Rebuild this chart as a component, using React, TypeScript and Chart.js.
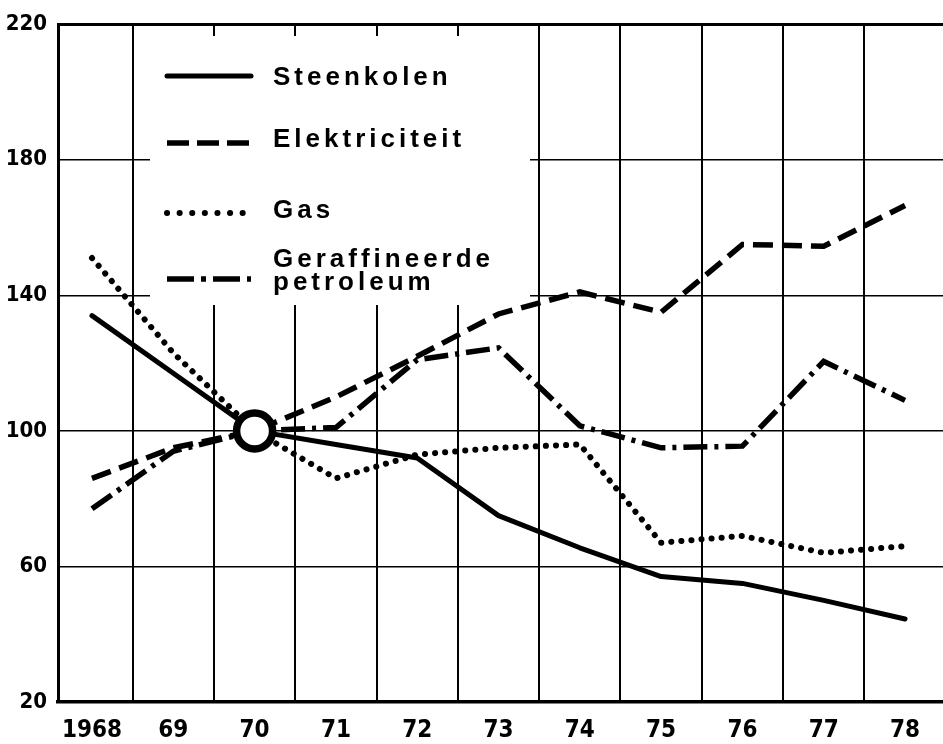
import React, { useEffect, useRef } from "react";
import { Chart, registerables } from "chart.js";

Chart.register(...registerables);

// ---- data ----
const YEARS = [1968, 1969, 1970, 1971, 1972, 1973, 1974, 1975, 1976, 1977, 1978];
const YEAR_LABELS = ["1968", "69", "70", "71", "72", "73", "74", "75", "76", "77", "78"];
const STEENKOLEN = [134, 117, 100, 96, 92, 75, 65.5, 57, 55, 50, 44.5];
const ELEKTRICITEIT = [86, 95, 100, 110, 122, 134.5, 141, 135, 155, 154.5, 166.5];
const GAS = [151, 123, 100, 86, 93, 95, 96, 67, 69, 64, 66];
const PETROLEUM = [77, 94, 100, 101, 121, 124.5, 101.5, 95, 95.5, 120.5, 109];
const SERIES_NAMES = ["Steenkolen", "Elektriciteit", "Gas", "Geraffineerde petroleum"];
const Y_TICKS = [20, 60, 100, 140, 180, 220];
const BASE_INDEX = 2; // 1970 = 100

const X_MIN = 1967.582;
const X_MAX = 1978.467;

const TICK_FAMILY = '"Liberation Sans Narrow", "DejaVu Sans Condensed", "Liberation Sans", sans-serif';
const LEGEND_FAMILY = '"Liberation Sans", Arial, sans-serif';

const pts = (vals: number[]) => vals.map((v, i) => ({ x: YEARS[i], y: v }));

const legendPlugin = {
  id: "boxLegend",
  beforeDatasetsDraw(chart: any) {
    const ctx = chart.ctx;
    ctx.save();
    ctx.fillStyle = "#ffffff";
    ctx.fillRect(150, 36, 380, 269);
    ctx.restore();
  },
  afterDatasetsDraw(chart: any) {
    const ctx = chart.ctx;
    const sampleY = [76, 143, 213, 279];
    const textBase = [[85], [147], [218], [267, 290]];
    const x0 = 167;
    const x1 = 251;
    const tx = 273;
    ctx.save();
    chart.data.datasets.forEach((ds: any, i: number) => {
      ctx.save();
      ctx.strokeStyle = "#000";
      ctx.lineWidth = ds.legendWidth || ds.borderWidth;
      ctx.lineCap = ds.borderCapStyle || "butt";
      ctx.setLineDash(ds.legendDash || ds.borderDash || []);
      ctx.beginPath();
      ctx.moveTo(x0, sampleY[i]);
      ctx.lineTo(x1, sampleY[i]);
      ctx.stroke();
      ctx.restore();

      ctx.fillStyle = "#000";
      ctx.font = "bold 26px " + LEGEND_FAMILY;
      (ctx as any).letterSpacing = "4px";
      ctx.textAlign = "left";
      ctx.textBaseline = "alphabetic";
      const label: string = ds.label;
      const lines = textBase[i].length > 1 ? label.split(" ") : [label];
      lines.forEach((ln: string, k: number) => {
        ctx.fillText(ln, tx, textBase[i][k]);
      });
    });
    ctx.restore();
  },
};

export default function App() {
  const ref = useRef<HTMLCanvasElement | null>(null);

  useEffect(() => {
    if (!ref.current) return;
    const common = {
      pointRadius: 0,
      pointHoverRadius: 0,
      tension: 0,
      fill: false,
      borderColor: "#000",
      backgroundColor: "#000",
    };
    const chart = new Chart(ref.current, {
      type: "line",
      data: {
        datasets: [
          {
            ...common,
            label: SERIES_NAMES[0],
            data: pts(STEENKOLEN),
            borderWidth: 5,
            borderCapStyle: "round",
            borderJoinStyle: "round",
            pointRadius: (c: any) => (c.dataIndex === BASE_INDEX ? 18 : 0),
            pointBorderWidth: 7.5,
            pointBackgroundColor: "#fff",
            pointBorderColor: "#000",
          },
          {
            ...common,
            label: SERIES_NAMES[1],
            data: pts(ELEKTRICITEIT),
            borderWidth: 5.5,
            borderDash: [20, 9],
            legendDash: [22, 8],
          },
          {
            ...common,
            label: SERIES_NAMES[2],
            data: pts(GAS),
            borderWidth: 6,
            borderCapStyle: "round",
            borderDash: [0.1, 10],
            legendDash: [0.1, 12.5],
          },
          {
            ...common,
            label: SERIES_NAMES[3],
            data: pts(PETROLEUM),
            borderWidth: 5.5,
            borderDash: [24, 7, 4, 7],
            legendDash: [27, 7, 5, 7],
          },
        ] as any,
      },
      options: {
        animation: false,
        responsive: false,
        maintainAspectRatio: false,
        events: [],
        layout: { padding: { top: 22, right: 0, left: 0, bottom: 0 } },
        plugins: {
          legend: { display: false },
          tooltip: { enabled: false },
        },
        scales: {
          x: {
            type: "linear",
            min: X_MIN,
            max: X_MAX,
            afterBuildTicks: (scale: any) => {
              const t: any[] = [];
              YEARS.forEach((y) => {
                t.push({ value: y });
                if (y + 0.5 < X_MAX) t.push({ value: y + 0.5 });
              });
              scale.ticks = t;
            },
            afterFit: (scale: any) => {
              scale.height = 42;
            },
            grid: {
              drawTicks: false,
              color: (c: any) =>
                c.tick && Number.isInteger(c.tick.value) ? "rgba(0,0,0,0)" : "#000",
              lineWidth: 2,
            },
            border: { display: true, color: "#000", width: 3.5 },
            ticks: {
              autoSkip: false,
              maxRotation: 0,
              minRotation: 0,
              padding: 14,
              color: "#000",
              font: { family: TICK_FAMILY, size: 24, weight: "bold" },
              callback: (v: any) => {
                const idx = YEARS.indexOf(v);
                return idx >= 0 ? YEAR_LABELS[idx] : "";
              },
            },
          },
          y: {
            type: "linear",
            min: Y_TICKS[0],
            max: Y_TICKS[Y_TICKS.length - 1],
            afterBuildTicks: (scale: any) => {
              scale.ticks = Y_TICKS.map((v) => ({ value: v }));
            },
            afterFit: (scale: any) => {
              scale.width = 58;
            },
            grid: {
              drawTicks: false,
              color: "#000",
              lineWidth: (c: any) =>
                c.tick && c.tick.value === Y_TICKS[Y_TICKS.length - 1] ? 3 : 1.5,
            },
            border: { display: true, color: "#000", width: 3 },
            ticks: {
              padding: 11,
              color: "#000",
              font: { family: TICK_FAMILY, size: 22, weight: "bold" },
              callback: (v: any) => String(v),
            },
          },
        },
      } as any,
      plugins: [legendPlugin],
    });
    return () => chart.destroy();
  }, []);

  return (
    <div
      style={{
        position: "fixed",
        left: 0,
        top: 0,
        width: 943,
        height: 744,
        background: "#fff",
        overflow: "hidden",
      }}
    >
      <canvas ref={ref} width={943} height={744} style={{ display: "block" }} />
    </div>
  );
}
